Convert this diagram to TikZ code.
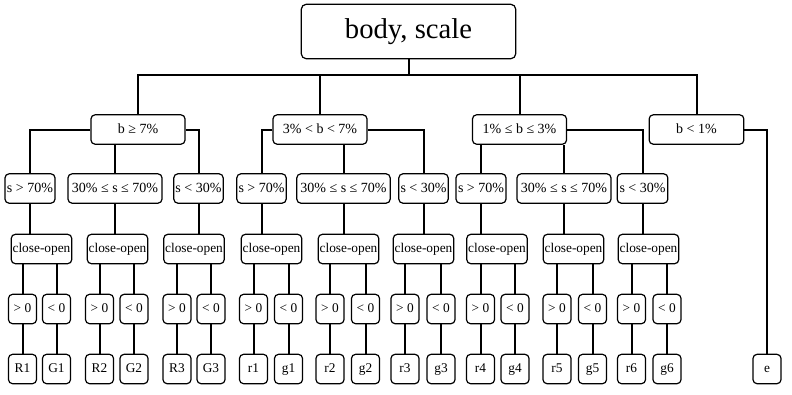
\documentclass[tikz,border=0pt]{standalone}
\usepackage{fontspec}
\setmainfont{Liberation Serif}
\begin{document}
\begin{tikzpicture}[x=0.75pt, y=-0.75pt,
    box/.style={rectangle, rounded corners=3pt, draw, line width=0.9pt, inner sep=1pt, minimum height=22pt, text height=7.5pt, text depth=2pt, font=\fontsize{10.5}{12}\selectfont},
    cond/.style={box, minimum width=70.5pt},
    co/.style={box, minimum width=44pt, font=\fontsize{10}{12}\selectfont},
    leaf/.style={box, minimum width=21pt, font=\fontsize{10}{12}\selectfont},
    conn/.style={line width=1.5pt}
]
    \useasboundingbox (0,0) rectangle (792,394);

    \node [box, minimum width=161pt, minimum height=41pt, rounded corners=4pt, text height=15pt, text depth=4pt, font=\fontsize{21.5}{24}\selectfont] (root) at (408.5,31.5) {body, scale};
    \coordinate (bus) at (408.5,75);

    \node [cond] (b1) at (138,129.5) {b ≥ 7\%};
    \node [cond] (b2) at (320,129.5) {3\% < b < 7\%};
    \node [cond] (b3) at (519.5,129.5) {1\% ≤ b ≤ 3\%};
    \node [cond, minimum width=71pt] (b4) at (696.5,129.5) {b < 1\%};

    \node [box, minimum width=37.5pt] (s11) at (30,188.5) {s > 70\%};
    \node [cond] (s12) at (115,188.5) {30\% ≤ s ≤ 70\%};
    \node [box, minimum width=37pt] (s13) at (198.5,188.5) {s < 30\%};
    \node [box, minimum width=37pt] (s21) at (261.5,188.5) {s > 70\%};
    \node [cond, minimum width=70pt] (s22) at (343.5,188.5) {30\% ≤ s ≤ 70\%};
    \node [box, minimum width=37pt] (s23) at (423.5,188.5) {s < 30\%};
    \node [box, minimum width=37.5pt] (s31) at (481,188.5) {s > 70\%};
    \node [cond] (s32) at (564,188.5) {30\% ≤ s ≤ 70\%};
    \node [box, minimum width=38pt] (s33) at (642.5,188.5) {s < 30\%};

    \node [co] (c11) at (41.5,249) {close-open};
    \node [co] (c12) at (117.5,249) {close-open};
    \node [co] (c13) at (194,249) {close-open};
    \node [co] (c21) at (271.5,249) {close-open};
    \node [co] (c22) at (348.5,249) {close-open};
    \node [co] (c23) at (423.5,249) {close-open};
    \node [co] (c31) at (497,249) {close-open};
    \node [co] (c32) at (573.5,249) {close-open};
    \node [co] (c33) at (648.5,249) {close-open};

    % sign of close-open
    \node [leaf] (gt1) at (22.5,309) {> 0};   \node [leaf] (lt1) at (56.5,309) {< 0};
    \node [leaf] (gt2) at (99.5,309) {> 0};   \node [leaf] (lt2) at (134,309) {< 0};
    \node [leaf] (gt3) at (177,309) {> 0};    \node [leaf] (lt3) at (211,309) {< 0};
    \node [leaf] (gt4) at (253.5,309) {> 0};  \node [leaf] (lt4) at (288.5,309) {< 0};
    \node [leaf] (gt5) at (330,309) {> 0};    \node [leaf] (lt5) at (365.5,309) {< 0};
    \node [leaf] (gt6) at (405,309) {> 0};    \node [leaf] (lt6) at (441,309) {< 0};
    \node [leaf] (gt7) at (480.5,309) {> 0};  \node [leaf] (lt7) at (515,309) {< 0};
    \node [leaf] (gt8) at (557,309) {> 0};    \node [leaf] (lt8) at (592.5,309) {< 0};
    \node [leaf] (gt9) at (631.5,309) {> 0};  \node [leaf] (lt9) at (667,309) {< 0};

    % end classes
    \node [leaf, below of=gt1, node distance=45pt] (R1) {R1};  \node [leaf, below of=lt1, node distance=45pt] (G1) {G1};
    \node [leaf, below of=gt2, node distance=45pt] (R2) {R2};  \node [leaf, below of=lt2, node distance=45pt] (G2) {G2};
    \node [leaf, below of=gt3, node distance=45pt] (R3) {R3};  \node [leaf, below of=lt3, node distance=45pt] (G3) {G3};
    \node [leaf, below of=gt4, node distance=45pt] (r1) {r1};  \node [leaf, below of=lt4, node distance=45pt] (g1) {g1};
    \node [leaf, below of=gt5, node distance=45pt] (r2) {r2};  \node [leaf, below of=lt5, node distance=45pt] (g2) {g2};
    \node [leaf, below of=gt6, node distance=45pt] (r3) {r3};  \node [leaf, below of=lt6, node distance=45pt] (g3) {g3};
    \node [leaf, below of=gt7, node distance=45pt] (r4) {r4};  \node [leaf, below of=lt7, node distance=45pt] (g4) {g4};
    \node [leaf, below of=gt8, node distance=45pt] (r5) {r5};  \node [leaf, below of=lt8, node distance=45pt] (g5) {g5};
    \node [leaf, below of=gt9, node distance=45pt] (r6) {r6};  \node [leaf, below of=lt9, node distance=45pt] (g6) {g6};
    \node [leaf] (e) at (767,369) {e};

    \draw [conn] (root) -- (bus);
    \draw [conn] (b1) |- (bus) -| (b4);
    \draw [conn] (b2) -- (b2 |- bus);
    \draw [conn] (b3) -- (b3 |- bus);

    \draw [conn] (b1) -| (s11);
    \draw [conn] (s12) -- (s12 |- b1.south);
    \draw [conn] (b1) -| (s13);
    \draw [conn] (b2) -| (s21);
    \draw [conn] (s22) -- (s22 |- b2.south);
    \draw [conn] (b2) -| (s23);
    \draw [conn] (s31) -- (s31 |- b3.south);
    \draw [conn] (s32) -- (s32 |- b3.south);
    \draw [conn] (b3) -| (s33);
    \draw [conn] (b4) -| (e);

    \draw [conn] (s11) -- (s11 |- c11.north);
    \draw [conn] (s12) -- (s12 |- c12.north);
    \draw [conn] (s13) -- (s13 |- c13.north);
    \draw [conn] (s21) -- (s21 |- c21.north);
    \draw [conn] (s22) -- (s22 |- c22.north);
    \draw [conn] (s23) -- (s23 |- c23.north);
    \draw [conn] (s31) -- (s31 |- c31.north);
    \draw [conn] (s32) -- (s32 |- c32.north);
    \draw [conn] (s33) -- (s33 |- c33.north);

    \draw [conn] (gt1) -- (gt1 |- c11.south);  \draw [conn] (lt1) -- (lt1 |- c11.south);
    \draw [conn] (gt2) -- (gt2 |- c12.south);  \draw [conn] (lt2) -- (lt2 |- c12.south);
    \draw [conn] (gt3) -- (gt3 |- c13.south);  \draw [conn] (lt3) -- (lt3 |- c13.south);
    \draw [conn] (gt4) -- (gt4 |- c21.south);  \draw [conn] (lt4) -- (lt4 |- c21.south);
    \draw [conn] (gt5) -- (gt5 |- c22.south);  \draw [conn] (lt5) -- (lt5 |- c22.south);
    \draw [conn] (gt6) -- (gt6 |- c23.south);  \draw [conn] (lt6) -- (lt6 |- c23.south);
    \draw [conn] (gt7) -- (gt7 |- c31.south);  \draw [conn] (lt7) -- (lt7 |- c31.south);
    \draw [conn] (gt8) -- (gt8 |- c32.south);  \draw [conn] (lt8) -- (lt8 |- c32.south);
    \draw [conn] (gt9) -- (gt9 |- c33.south);  \draw [conn] (lt9) -- (lt9 |- c33.south);

    \draw [conn] (gt1) -- (R1);  \draw [conn] (lt1) -- (G1);
    \draw [conn] (gt2) -- (R2);  \draw [conn] (lt2) -- (G2);
    \draw [conn] (gt3) -- (R3);  \draw [conn] (lt3) -- (G3);
    \draw [conn] (gt4) -- (r1);  \draw [conn] (lt4) -- (g1);
    \draw [conn] (gt5) -- (r2);  \draw [conn] (lt5) -- (g2);
    \draw [conn] (gt6) -- (r3);  \draw [conn] (lt6) -- (g3);
    \draw [conn] (gt7) -- (r4);  \draw [conn] (lt7) -- (g4);
    \draw [conn] (gt8) -- (r5);  \draw [conn] (lt8) -- (g5);
    \draw [conn] (gt9) -- (r6);  \draw [conn] (lt9) -- (g6);
\end{tikzpicture}
\end{document}
